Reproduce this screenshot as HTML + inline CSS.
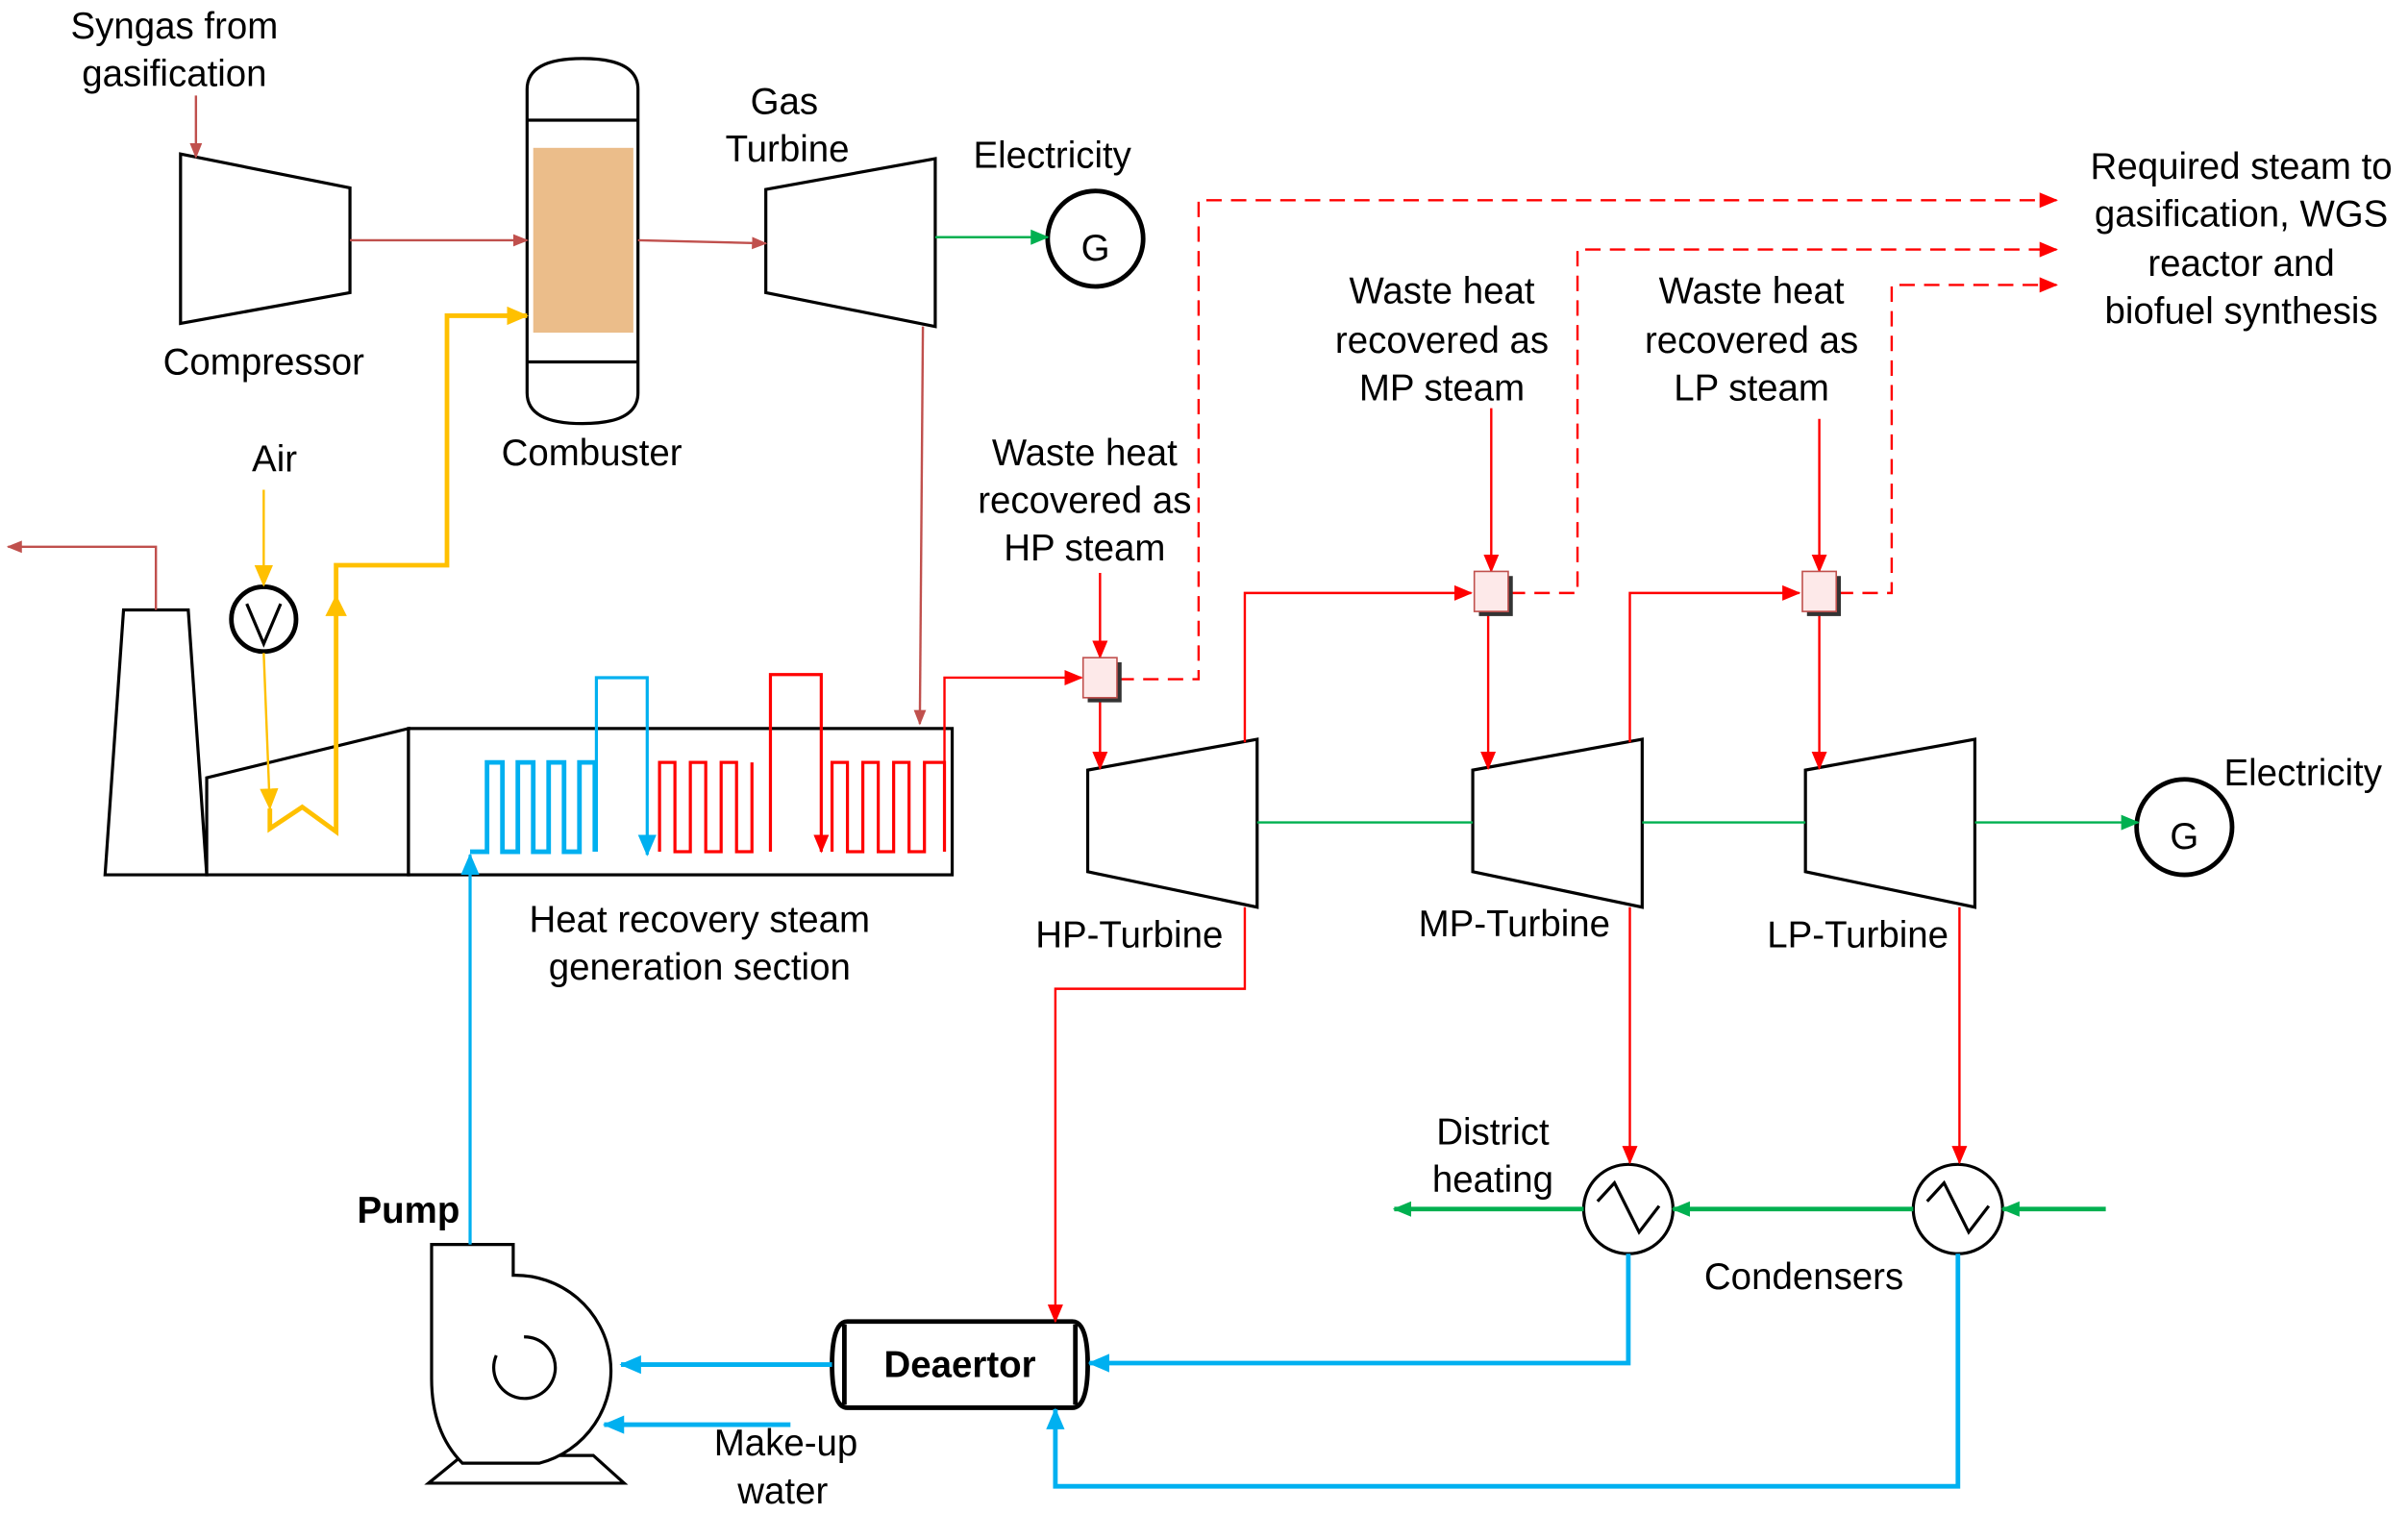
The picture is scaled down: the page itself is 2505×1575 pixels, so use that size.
<!DOCTYPE html>
<html><head><meta charset="utf-8"><style>
html,body{margin:0;padding:0;background:#fff;}
svg{display:block}
text{font-family:"Liberation Sans",Arial,sans-serif;font-size:24px;fill:#000;text-anchor:middle}
</style></head><body>
<svg width="2505" height="1575" viewBox="0 0 1563 983" xmlns="http://www.w3.org/2000/svg">
<defs>
<marker id="ap" markerWidth="10" markerHeight="10" refX="9" refY="5" orient="auto" markerUnits="userSpaceOnUse"><path d="M0,1 L10,5 L0,9 Z" fill="#c0504d"/></marker>
<marker id="ar" markerWidth="12" markerHeight="12" refX="11" refY="6" orient="auto" markerUnits="userSpaceOnUse"><path d="M0,1 L12,6 L0,11 Z" fill="#ff0000"/></marker>
<marker id="ag" markerWidth="12" markerHeight="12" refX="11" refY="6" orient="auto" markerUnits="userSpaceOnUse"><path d="M0,1 L12,6 L0,11 Z" fill="#00b050"/></marker>
<marker id="ab" markerWidth="14" markerHeight="14" refX="13" refY="7" orient="auto" markerUnits="userSpaceOnUse"><path d="M0,1 L14,7 L0,13 Z" fill="#00b0f0"/></marker>
<marker id="ay" markerWidth="14" markerHeight="14" refX="13" refY="7" orient="auto" markerUnits="userSpaceOnUse"><path d="M0,1 L14,7 L0,13 Z" fill="#ffc000"/></marker>
</defs>
<g stroke="#000" stroke-width="2" fill="#fff">
<polygon points="117,100 227,122 227,190 117,210"/>
<path d="M342,58 Q342,38 378,38 Q414,38 414,58 L414,255 Q414,275 378,275 Q342,275 342,255 Z"/>
<line x1="342" y1="78" x2="414" y2="78"/><line x1="342" y1="235" x2="414" y2="235"/>
<polygon points="497,123 607,103 607,212 497,190"/>
<polygon points="68,568 80,396 122,396 134,568"/>
<polygon points="134,568 134,505 265,473 265,568"/>
<rect x="265" y="473" width="353" height="95"/>
<polygon points="706,500 816,480 816,589 706,566"/>
<polygon points="956,500 1066,480 1066,589 956,566"/>
<polygon points="1172,500 1282,480 1282,589 1172,566"/>
<circle cx="711" cy="155" r="31" stroke-width="3"/>
<circle cx="1418" cy="537" r="31" stroke-width="3"/>
<circle cx="171" cy="402" r="21" stroke-width="3"/>
<circle cx="1057" cy="785" r="29"/>
<circle cx="1271" cy="785" r="29"/>
<path d="M550,858 L696,858 Q706,858 706,886 Q706,914 696,914 L550,914 Q540,914 540,886 Q540,858 550,858 Z" stroke-width="3"/>
<line x1="548" y1="860" x2="548" y2="912" stroke-width="3"/><line x1="698" y1="860" x2="698" y2="912" stroke-width="3"/>
<polygon points="300,945 278,963 405,963 385,945"/>
<path d="M280,808 L333,808 L333,828 A62,62 0 0 1 350,950 L300,950 Q280,930 280,895 Z"/>
<path d="M340,868 A20,20 0 1 1 322,880" fill="none"/>
</g>
<rect x="346" y="96" width="65" height="120" fill="#ebbd8a"/>
<text x="711" y="169" font-size="40">G</text>
<text x="1418" y="551" font-size="40">G</text>
<polyline points="160,392 171,418 182,392" fill="none" stroke="#000" stroke-width="2"/>
<polyline points="1037,780 1048,768 1064,800 1077,783" fill="none" stroke="#000" stroke-width="2"/>
<polyline points="1251,780 1262,768 1278,800 1291,783" fill="none" stroke="#000" stroke-width="2"/>

<g stroke="#c0504d" stroke-width="1.5" fill="none">
<line x1="127" y1="62" x2="127" y2="102" marker-end="url(#ap)"/>
<line x1="227" y1="156" x2="342" y2="156" marker-end="url(#ap)"/>
<line x1="414" y1="156" x2="497" y2="158" marker-end="url(#ap)"/>
<line x1="599" y1="212" x2="597" y2="470" marker-end="url(#ap)"/>
<polyline points="101,396 101,355 5,355" marker-end="url(#ap)"/>
</g>
<g stroke="#00b050" fill="none">
<line x1="607" y1="154" x2="680" y2="154" stroke-width="1.5" marker-end="url(#ag)"/>
<line x1="816" y1="534" x2="956" y2="534" stroke-width="1.5"/>
<line x1="1066" y1="534" x2="1172" y2="534" stroke-width="1.5"/>
<line x1="1282" y1="534" x2="1388" y2="534" stroke-width="1.5" marker-end="url(#ag)"/>
<line x1="1367" y1="785" x2="1300" y2="785" stroke-width="3" marker-end="url(#ag)"/>
<line x1="1242" y1="785" x2="1086" y2="785" stroke-width="3" marker-end="url(#ag)"/>
<line x1="1028" y1="785" x2="905" y2="785" stroke-width="3" marker-end="url(#ag)"/>
</g>
<g stroke="#ffc000" stroke-width="3" fill="none">
<line x1="171" y1="318" x2="171" y2="380" stroke-width="1.5" marker-end="url(#ay)"/>
<line x1="171" y1="424" x2="175" y2="525" stroke-width="1.5" marker-end="url(#ay)"/>
<polyline points="175,525 175,538 196,524 218,540 218,367 290,367 290,205 342,205" marker-end="url(#ay)"/>
</g>
<polygon points="218,386 211,400 225,400" fill="#ffc000"/>
<g stroke="#00b0f0" stroke-width="3" fill="none">
<path d="M305,553 L316,553 L316,495 L326,495 L326,553 L336,553 L336,495 L346,495 L346,553 L356,553 L356,495 L366,495 L366,553 L376,553 L376,495 L386,495 L386,553"/>
<polyline points="387,553 387,440 420,440 420,555" marker-end="url(#ab)" stroke-width="2"/>
<line x1="305" y1="808" x2="305" y2="555" stroke-width="2" marker-end="url(#ab)"/>
<line x1="540" y1="886" x2="403" y2="886" marker-end="url(#ab)"/>
<line x1="513" y1="925" x2="392" y2="925" marker-end="url(#ab)"/>
<polyline points="1057,814 1057,885 707,885" marker-end="url(#ab)"/>
<polyline points="1271,814 1271,965 685,965 685,915" marker-end="url(#ab)"/>
</g>
<g stroke="#ff0000" stroke-width="2" fill="none">
<path d="M428,553 L428,495 L438,495 L438,553 L448,553 L448,495 L458,495 L458,553 L468,553 L468,495 L478,495 L478,553 L488,553 L488,495"/>
<polyline points="500,553 500,438 533,438 533,553" marker-end="url(#ar)"/>
<path d="M540,553 L540,495 L550,495 L550,553 L560,553 L560,495 L570,495 L570,553 L580,553 L580,495 L590,495 L590,553 L600,553 L600,495 L613,495 L613,553"/>
<polyline points="613,553 613,440 702,440" marker-end="url(#ar)" stroke-width="1.5"/>
<g stroke-width="1.5">
<line x1="714" y1="372" x2="714" y2="427" marker-end="url(#ar)"/>
<line x1="968" y1="265" x2="968" y2="371" marker-end="url(#ar)"/>
<line x1="1181" y1="272" x2="1181" y2="371" marker-end="url(#ar)"/>
<line x1="714" y1="455" x2="714" y2="499" marker-end="url(#ar)"/>
<polyline points="808,482 808,385 955,385" marker-end="url(#ar)"/>
<line x1="966" y1="398" x2="966" y2="499" marker-end="url(#ar)"/>
<polyline points="1058,482 1058,385 1168,385" marker-end="url(#ar)"/>
<line x1="1181" y1="398" x2="1181" y2="499" marker-end="url(#ar)"/>
<polyline points="808,589 808,642 685,642 685,858" marker-end="url(#ar)"/>
<line x1="1058" y1="589" x2="1058" y2="755" marker-end="url(#ar)"/>
<line x1="1272" y1="589" x2="1272" y2="755" marker-end="url(#ar)"/>
</g>
<g stroke-dasharray="10,6" stroke-width="1.5">
<polyline points="726,441 778,441 778,130 1335,130" marker-end="url(#ar)"/>
<polyline points="980,385 1024,385 1024,162 1335,162" marker-end="url(#ar)"/>
<polyline points="1193,385 1228,385 1228,185 1335,185" marker-end="url(#ar)"/>
</g>
</g>
<g>
<rect x="706" y="430" width="22" height="26" fill="#333"/>
<rect x="703" y="427" width="22" height="26" fill="#fde9e9" stroke="#c0504d"/>
<rect x="960" y="374" width="22" height="26" fill="#333"/>
<rect x="957" y="371" width="22" height="26" fill="#fde9e9" stroke="#c0504d"/>
<rect x="1173" y="374" width="22" height="26" fill="#333"/>
<rect x="1170" y="371" width="22" height="26" fill="#fde9e9" stroke="#c0504d"/>
</g>
<text x="113" y="25">Syngas from</text><text x="113" y="56">gasification</text>
<text x="171" y="243">Compressor</text>
<text x="384" y="302" font-size="20">Combuster</text>
<text x="509" y="74">Gas</text><text x="511" y="105">Turbine</text>
<text x="683" y="109">Electricity</text>
<text x="178" y="306" font-size="20">Air</text>
<text x="454" y="605">Heat recovery steam</text><text x="454" y="636">generation section</text>
<text x="704" y="302">Waste heat</text><text x="704" y="333">recovered as</text><text x="704" y="364">HP steam</text>
<text x="936" y="197">Waste heat</text><text x="936" y="229">recovered as</text><text x="936" y="260">MP steam</text>
<text x="1137" y="197">Waste heat</text><text x="1137" y="229">recovered as</text><text x="1137" y="260">LP steam</text>
<text x="1455" y="116">Required steam to</text><text x="1455" y="147">gasification, WGS</text><text x="1455" y="179">reactor and</text><text x="1455" y="210">biofuel synthesis</text>
<text x="733" y="615">HP-Turbine</text><text x="983" y="608">MP-Turbine</text><text x="1206" y="615">LP-Turbine</text>
<text x="1495" y="510">Electricity</text>
<text x="969" y="743">District</text><text x="969" y="774">heating</text>
<text x="1171" y="837">Condensers</text>
<text x="623" y="894" font-weight="bold" font-size="19" fill="#333">Deaertor</text>
<text x="265" y="794" font-weight="bold" font-size="21">Pump</text>
<text x="510" y="945">Make-up</text><text x="508" y="976">water</text>
</svg>
</body></html>
